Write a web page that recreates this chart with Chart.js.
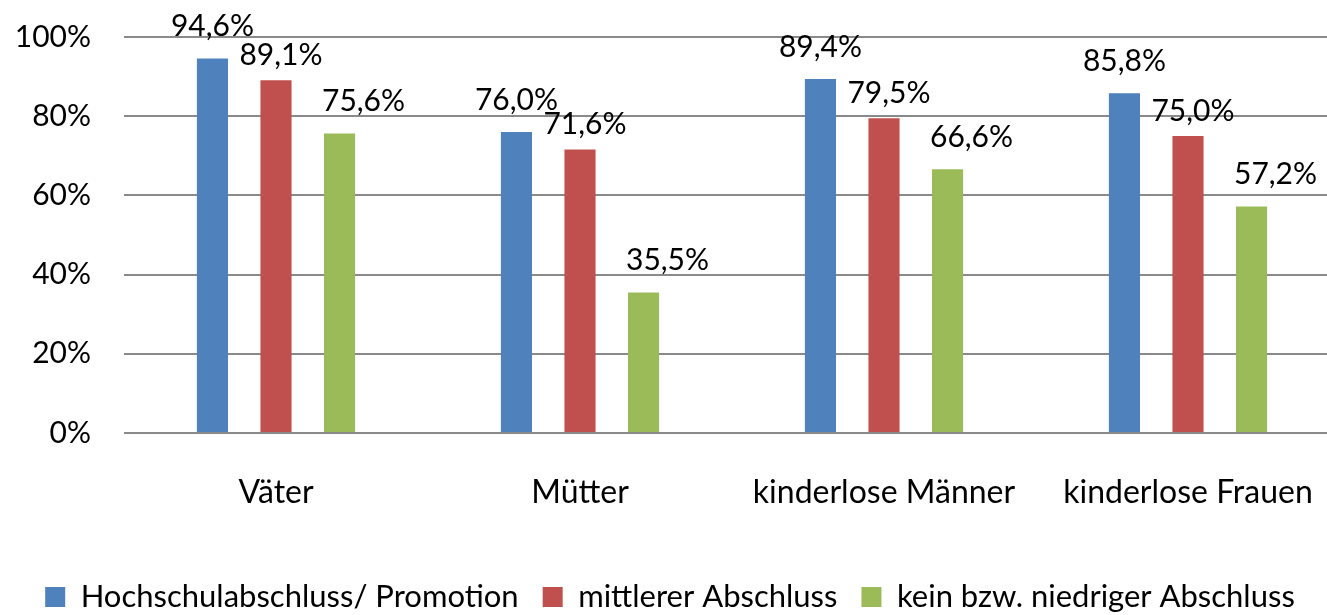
<!DOCTYPE html>
<html>
<head>
<meta charset="utf-8">
<script src="https://cdn.jsdelivr.net/npm/chart.js"></script>
<style>
  html, body { margin: 0; padding: 0; background: #fff; overflow: hidden; }
  /* excel's plot area runs a bit past the right edge of the picture */
  #wrap { width: 1340px; height: 615px; }
</style>
</head>
<body>
<div id="wrap"><canvas id="chBars" width="1340" height="615"></canvas></div>
<script>
/* Erwerbstaetigkeit nach Abschluss */

// data
var categories = ['Väter', 'Mütter', 'kinderlose Männer', 'kinderlose Frauen'];
var seriesNames = ['Hochschulabschluss/ Promotion', 'mittlerer Abschluss', 'kein bzw. niedriger Abschluss'];
var hochschul = [94.6, 76.0, 89.4, 85.8];
var mittlerer = [89.1, 71.6, 79.5, 75.0];
var niedrig = [75.6, 35.5, 66.6, 57.2];
var yTicks = [0, 20, 40, 60, 80, 100];

// colors
var colors = ['#4f81bd', '#c0504d', '#9bbb59'];
var gridColor = '#8a8a8a';

Chart.defaults.font.family = 'Lato';
Chart.defaults.font.size = 30;
Chart.defaults.color = '#000';

// value labels above the bars (excel nudged them around a bit per series)
var labelShift = [0, 5, 24];
var labelLift = [32, 25, 32];
var valueLabels = {
  id: 'valueLabels',
  afterDatasetsDraw: function(chart) {
    var ctx = chart.ctx;
    ctx.save();
    ctx.font = '30px Lato';
    ctx.fillStyle = '#000';
    ctx.textAlign = 'center';
    ctx.textBaseline = 'middle';
    chart.data.datasets.forEach(function(ds, i) {
      chart.getDatasetMeta(i).data.forEach(function(bar, j) {
        var txt = ds.data[j].toFixed(1).replace('.', ',') + '%';
        ctx.fillText(txt, bar.x + labelShift[i], bar.y - labelLift[i]);
      });
    });
    ctx.restore();
  }
};

var chData = {
  labels: categories,
  datasets: [hochschul, mittlerer, niedrig].map(function(vals, i) {
    return {
      label: seriesNames[i],
      data: vals,
      backgroundColor: colors[i],
      borderWidth: 0,
      categoryPercentage: 0.627,
      barPercentage: 0.49
    };
  })
};

var chBars = document.getElementById('chBars');
if (chBars) {
  new Chart(chBars, {
    type: 'bar',
    data: chData,
    plugins: [valueLabels],
    options: {
      responsive: false,
      animation: false,
      devicePixelRatio: 1,
      layout: {padding: {top: 37, right: 0, bottom: -7.5, left: 0}},
      plugins: {
        legend: {
          position: 'bottom',
          labels: {boxWidth: 20, boxHeight: 20, padding: 24, font: {size: 31}}
        },
        tooltip: {enabled: false}
      },
      scales: {
        x: {
          grid: {display: false},
          border: {display: false},
          ticks: {padding: 32, font: {size: 32}},
          afterFit: function(s) { s.height = 124.5; s.paddingLeft = 0; s.paddingRight = 0; }
        },
        y: {
          min: 0,
          max: 100,
          grid: {color: gridColor, lineWidth: 2, drawTicks: false},
          border: {display: false},
          ticks: {padding: 33, font: {size: 30}, callback: function(v) { return v + '%'; }},
          afterBuildTicks: function(s) { s.ticks = yTicks.map(function(v) { return {value: v}; }); },
          afterFit: function(s) { s.width = 124; s.paddingTop = 0; s.paddingBottom = 0; }
        }
      }
    }
  });
}
</script>
</body>
</html>
